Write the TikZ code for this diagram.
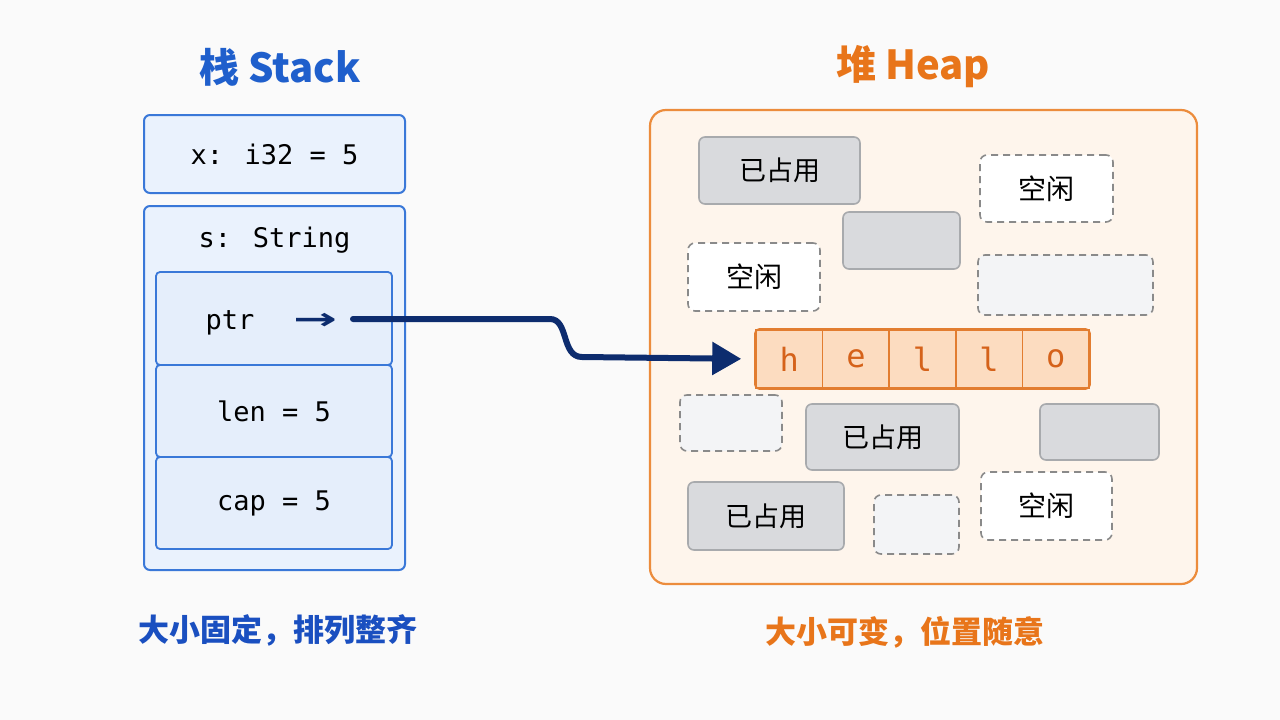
\documentclass[tikz,border=0pt]{standalone}
\usepackage{fontspec}
\usetikzlibrary{arrows.meta}
\newfontfamily\cjk{Noto Sans CJK SC}
\newfontfamily\mono{DejaVu Sans Mono}
\newfontfamily\dvs{DejaVu Sans}
\definecolor{bgc}{HTML}{FAFAFA}
\definecolor{titleblue}{HTML}{1F5FCC}
\definecolor{capblue}{HTML}{1A4FC0}
\definecolor{stackline}{HTML}{3A78D8}
\definecolor{stackfill}{HTML}{EAF2FD}
\definecolor{innerfill}{HTML}{E5EEFB}
\definecolor{navy}{HTML}{0D2C6E}
\definecolor{titleorange}{HTML}{E8751A}
\definecolor{heapline}{HTML}{EC8C3C}
\definecolor{heapfill}{HTML}{FEF5EC}
\definecolor{cellfill}{HTML}{FCDCC0}
\definecolor{cellline}{HTML}{E27D30}
\definecolor{letter}{HTML}{D5621A}
\definecolor{usedfill}{HTML}{D9DADD}
\definecolor{usedline}{HTML}{A8AAAD}
\definecolor{freeline}{HTML}{8A8A8A}
\definecolor{freegray}{HTML}{F3F4F6}
\tikzset{
  stackbox/.style={draw=stackline, line width=2pt, fill=stackfill, rounded corners=6pt, inner sep=0pt},
  innerbox/.style={draw=stackline, line width=1.8pt, fill=innerfill, rounded corners=4pt, inner sep=0pt, minimum width=236pt},
  monotext/.style={font=\mono\fontsize{27}{32}\selectfont, text=black},
  usedbox/.style={draw=usedline, line width=1.6pt, fill=usedfill, rounded corners=6pt, inner sep=0pt, font=\cjk\fontsize{27}{32}\selectfont, text=black},
  freebox/.style={draw=freeline, line width=1.6pt, dash pattern=on 7pt off 5pt, fill=white, rounded corners=7pt, inner sep=0pt, font=\cjk\fontsize{28}{32}\selectfont, text=black},
  freegraybox/.style={freebox, fill=freegray},
  cellbox/.style={draw=cellline, line width=1.6pt, fill=cellfill, inner sep=0pt, minimum width=66.6pt, minimum height=58pt, font=\mono\fontsize{32}{36}\selectfont, text=letter},
  pointer/.style={draw=navy, line width=6pt, line cap=round, -{Triangle[length=29pt,width=32pt]}},
}
\begin{document}
\begin{tikzpicture}[x=1pt,y=-1pt]
\fill[bgc] (0,0) rectangle (1280,720);
\useasboundingbox (0,0) rectangle (1280,720);

% ---------- Stack ----------
\node[font=\cjk\bfseries\fontsize{40}{46}\selectfont, text=titleblue] (stitle) at (280,67) {栈 Stack};
\node[stackbox, monotext, minimum width=261pt, minimum height=78pt] (xbox) at (274.5,154) {x: i32 = 5};
\node[stackbox, minimum width=261pt, minimum height=364pt] (sbox) at (274.5,388) {};
\node[monotext] (slabel) at (274.5,240) {s: String};
\node[innerbox, minimum height=93pt] (ptrbox) at (274,318.5) {};
\node[innerbox, monotext, minimum height=92pt] (lenbox) at (274,411) {len = 5};
\node[innerbox, monotext, minimum height=92pt] (capbox) at (274,503) {cap = 5};
\node[monotext, anchor=base] (ptrtext) at (230,329) {ptr};
\node[font=\dvs\bfseries\fontsize{30}{34}\selectfont, text=navy, anchor=base] (ptrarrow) at (315,329) {\scalebox{1.75}[1]{→}};
\coordinate (pstart) at (353,319);
\node[font=\cjk\bfseries\fontsize{31}{36}\selectfont, text=capblue] (scap) at (278,630) {大小固定，排列整齐};

% ---------- Heap ----------
\node[font=\cjk\bfseries\fontsize{40}{46}\selectfont, text=titleorange] (htitle) at (913,67) {堆 Heap};
\node[draw=heapline, line width=2.2pt, fill=heapfill, rounded corners=16pt, minimum width=547pt, minimum height=474pt, inner sep=0pt] (heap) at (923.5,347) {};

\node[usedbox, minimum width=161pt, minimum height=67pt] (u1) at (779.5,170.5) {已占用};
\node[usedbox, minimum width=117pt, minimum height=57pt] (u2) at (901.5,240.5) {};
\node[freebox, minimum width=133pt, minimum height=67pt] (f1) at (1046.5,188.5) {空闲};
\node[freebox, minimum width=132pt, minimum height=68pt] (f2) at (754,277) {空闲};
\node[freegraybox, minimum width=175pt, minimum height=60pt] (g1) at (1065.5,285) {};

\foreach \i/\c in {1/h,2/e,3/l,4/l,5/o}{
  \node[cellbox] (c\i) at ({756+66.6*(\i-0.5)},359) {\c};
}
\draw[draw=cellline, line width=2pt, rounded corners=4pt] (c1.north west) rectangle (c5.south east);

\node[freegraybox, minimum width=102pt, minimum height=56pt] (g2) at (731,423) {};
\node[usedbox, minimum width=153pt, minimum height=66pt] (u3) at (882.5,437) {已占用};
\node[usedbox, minimum width=119pt, minimum height=56pt] (u4) at (1099.5,432) {};
\node[usedbox, minimum width=156pt, minimum height=68pt] (u5) at (766,516) {已占用};
\node[freegraybox, minimum width=85pt, minimum height=59pt] (g3) at (916.5,524.5) {};
\node[freebox, minimum width=131pt, minimum height=68pt] (f3) at (1046.5,506) {空闲};

\node[font=\cjk\bfseries\fontsize{31}{36}\selectfont, text=titleorange] (hcap) at (905,632) {大小可变，位置随意};

% ---------- pointer ----------
\draw[pointer, shorten >=14pt] (pstart) -- (550,319) .. controls (569,319) and (561,357) .. (582,357) -- (c1.west);
\end{tikzpicture}
\end{document}
